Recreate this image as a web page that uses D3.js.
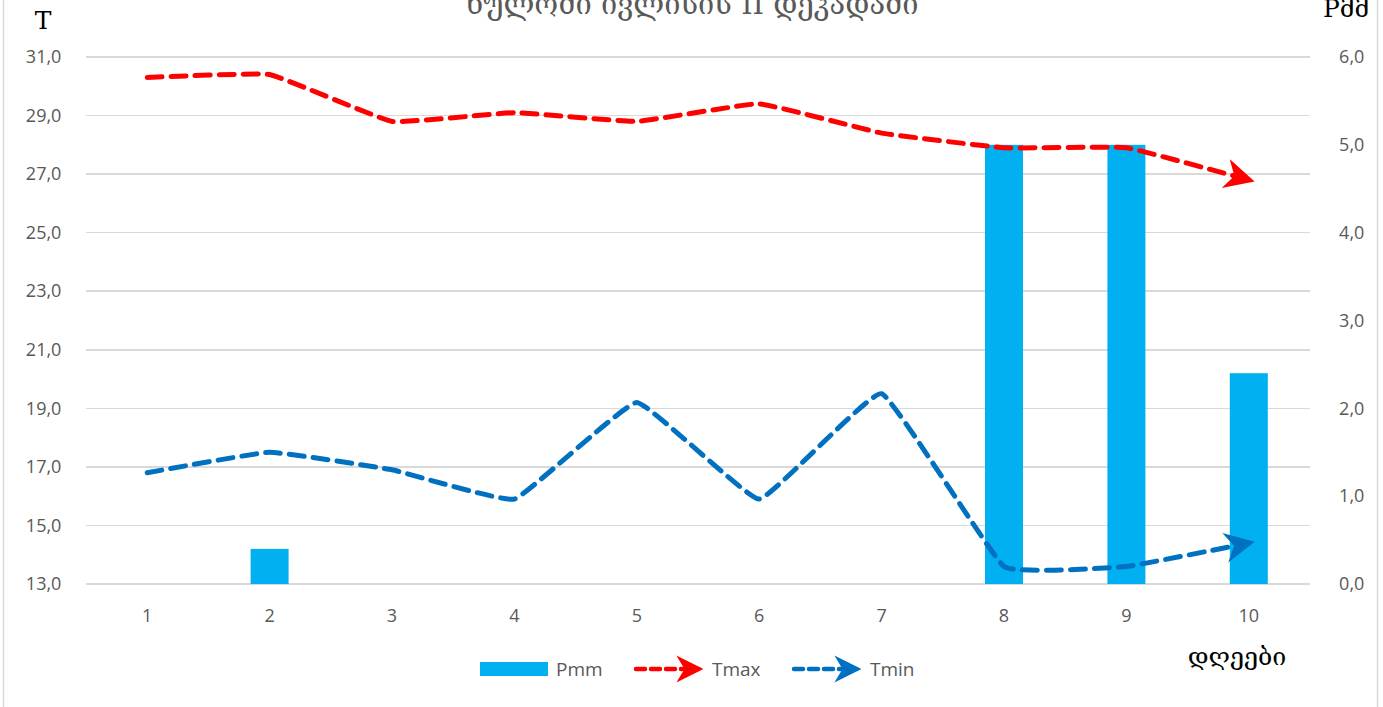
<!DOCTYPE html>
<html lang="ka">
<head>
<meta charset="UTF-8">
<title>ხულოში ივლისის II დეკადაში</title>
<script src="https://d3js.org/d3.v7.min.js"></script>
<style>
    html, body { margin: 0; padding: 0; background: #fff; }
    text { font-family: "Open Sans", "Noto Sans", sans-serif; fill: #595959; }
    .geo { font-family: "DejaVu Serif", "Noto Serif", serif; }
    .grid line { stroke: #d9d9d9; stroke-width: 1.5px; shape-rendering: crispEdges; }
</style>
</head>
<body>
<script>
// data
var days = ["1", "2", "3", "4", "5", "6", "7", "8", "9", "10"];
var pmm  = [0, 0.4, 0, 0, 0, 0, 0, 5.0, 5.0, 2.4];
var tmax = [30.3, 30.4, 28.8, 29.1, 28.8, 29.4, 28.4, 27.9, 27.9, 26.8];
var tmin = [16.8, 17.5, 16.9, 15.9, 19.2, 15.9, 19.5, 13.6, 13.6, 14.4];
var leftTicks  = [13, 15, 17, 19, 21, 23, 25, 27, 29, 31];
var rightTicks = [0, 1, 2, 3, 4, 5, 6];

var W = 1383, H = 707;
var plot = {left: 86, right: 1310, top: 57, bottom: 584};

var svg = d3.select("body").append("svg")
    .attr("width", W).attr("height", H);

// chart frame
svg.append("rect")
    .attr("x", 3.5).attr("y", -2).attr("width", 1374).attr("height", H + 4)
    .attr("fill", "none").attr("stroke", "#d9d9d9").attr("stroke-width", 1.5);

var x = d3.scaleBand().domain(days).range([plot.left, plot.right]);
var yL = d3.scaleLinear().domain([13, 31]).range([plot.bottom, plot.top]);
var yR = d3.scaleLinear().domain([0, 6]).range([plot.bottom, plot.top]);
var fmt = function(d) { return d3.format(".1f")(d).replace(".", ","); };

// gridlines
svg.append("g").attr("class", "grid")
    .selectAll("line").data(leftTicks).join("line")
    .attr("x1", plot.left).attr("x2", plot.right)
    .attr("y1", function(d) { return yL(d); })
    .attr("y2", function(d) { return yL(d); });

// axes
var axL = svg.append("g").attr("transform", "translate(" + (plot.left - 18) + ",0)")
    .call(d3.axisLeft(yL).tickValues(leftTicks).tickFormat(fmt).tickSize(0));
var axR = svg.append("g").attr("transform", "translate(" + (plot.right + 18) + ",0)")
    .call(d3.axisRight(yR).tickValues(rightTicks).tickFormat(fmt).tickSize(0));
var axB = svg.append("g").attr("transform", "translate(0," + (plot.bottom + 22) + ")")
    .call(d3.axisBottom(x).tickSize(0));
[axL, axR, axB].forEach(function(a) {
    a.select(".domain").remove();
    a.selectAll("text").attr("fill", "#595959").style("font-size", "18px")
        .style("font-family", "'Open Sans', sans-serif");
});
axL.selectAll("text").attr("dx", "-0.2em");
axR.selectAll("text").attr("dx", "0.45em");

// bars
var bw = 38;
svg.append("g").selectAll("rect").data(pmm).join("rect")
    .attr("x", function(d, i) { return x(days[i]) + x.bandwidth() / 2 - bw / 2; })
    .attr("y", function(d) { return yR(d); })
    .attr("width", bw)
    .attr("height", function(d) { return plot.bottom - yR(d); })
    .attr("fill", "#00B0F0");

// arrow markers
var defs = svg.append("defs");
function marker(id, color) {
    defs.append("marker").attr("id", id)
        .attr("viewBox", "0 0 10 10").attr("refX", 8).attr("refY", 5)
        .attr("markerWidth", 6).attr("markerHeight", 7)
        .attr("markerUnits", "strokeWidth").attr("orient", "auto")
        .append("path").attr("d", "M0,0 L10,5 L0,10 L3,5 Z").attr("fill", color);
}
marker("arrRed", "#FF0000");
marker("arrBlue", "#0070C0");

var line = function(sc) {
    return d3.line()
        .x(function(d, i) { return x(days[i]) + x.bandwidth() / 2; })
        .y(function(d) { return sc(d); })
        .curve(d3.curveCardinal.tension(0.72));
};

svg.append("path").datum(tmax)
    .attr("d", line(yL)).attr("fill", "none")
    .attr("stroke", "#FF0000").attr("stroke-width", 5)
    .attr("stroke-dasharray", "15,9").attr("stroke-linecap", "round")
    .attr("marker-end", "url(#arrRed)");

svg.append("path").datum(tmin)
    .attr("d", line(yL)).attr("fill", "none")
    .attr("stroke", "#0070C0").attr("stroke-width", 5)
    .attr("stroke-dasharray", "15,9").attr("stroke-linecap", "round")
    .attr("marker-end", "url(#arrBlue)");

// titles
svg.append("text").attr("class", "geo")
    .attr("x", 692).attr("y", 14).attr("text-anchor", "middle")
    .style("font-size", "29px").style("fill", "#595959")
    .text("ხულოში ივლისის II დეკადაში");
svg.append("text").attr("class", "geo")
    .attr("x", 43).attr("y", 29).attr("text-anchor", "middle")
    .style("font-size", "25px").style("fill", "#000")
    .text("T");
svg.append("text").attr("class", "geo")
    .attr("x", 1323).attr("y", 17)
    .style("font-size", "25px").style("fill", "#000")
    .text("Pმმ");
svg.append("text").attr("class", "geo")
    .attr("x", 1237).attr("y", 665).attr("text-anchor", "middle")
    .style("font-size", "25px").style("fill", "#000")
    .text("დღეები");

// legend
var lg = svg.append("g");
lg.append("rect").attr("x", 480).attr("y", 662).attr("width", 68).attr("height", 14)
    .attr("fill", "#00B0F0");
lg.append("text").attr("x", 556).attr("y", 676).style("font-size", "19px").text("Pmm");

var legItems = [
    {x: 636, label: "Tmax", color: "#FF0000", m: "arrRed"},
    {x: 794, label: "Tmin", color: "#0070C0", m: "arrBlue"}
];
legItems.forEach(function(it) {
    lg.append("line").attr("x1", it.x).attr("x2", it.x + 62)
        .attr("y1", 669).attr("y2", 669)
        .attr("stroke", it.color).attr("stroke-width", 4.5)
        .attr("stroke-dasharray", "9,6").attr("stroke-linecap", "round")
        .attr("marker-end", "url(#" + it.m + ")");
    lg.append("text").attr("x", it.x + 76).attr("y", 676)
        .style("font-size", "19px").text(it.label);
});
</script>
</body>
</html>
